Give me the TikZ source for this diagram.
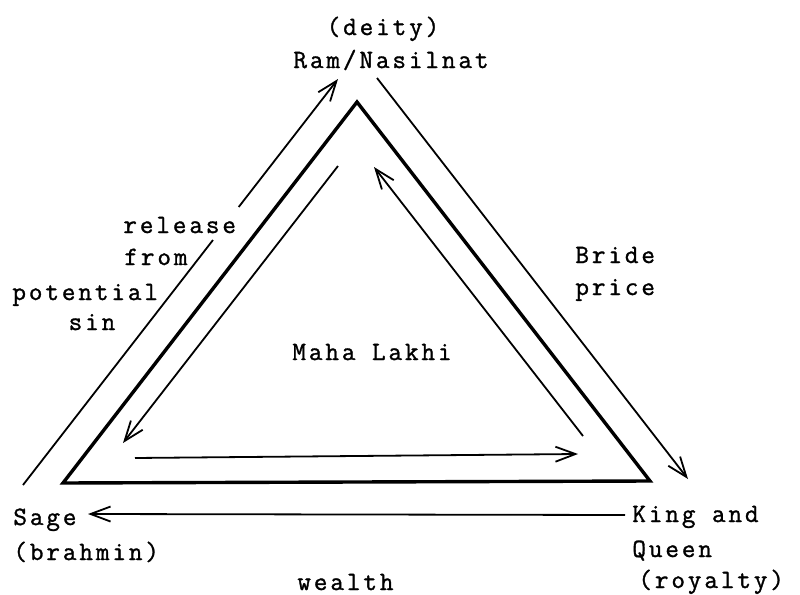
\documentclass[tikz,border=0pt]{standalone}
\usepackage{fontspec}
\newfontfamily\twfont{lmmono12-regular.otf}[LetterSpace=11,FakeBold=1.2]
\usetikzlibrary{arrows.meta}
\begin{document}
\begin{tikzpicture}[x=0.5pt,y=-0.5pt,
  lbl/.style={inner sep=0pt,font=\twfont\fontsize{13.2}{16}\selectfont},
  thin/.style={line width=0.9pt},
  thickline/.style={line width=1.7pt,line join=miter},
  arr/.style={thin,-{Straight Barb[length=10pt,width=7.5pt,line width=0.9pt]}}]
\useasboundingbox (0,0) rectangle (800,595);
% labels
\node[lbl,anchor=base] (deity) at (383,35) {(deity)};
\node[lbl,anchor=base] (ram) at (391,68) {Ram/Nasilnat};
\node[lbl,anchor=base west] (rel) at (123,233) {release};
\node[lbl,anchor=base west] (from) at (124,265) {from};
\node[lbl,anchor=base west] (pot) at (12,300) {potential};
\node[lbl,anchor=base] (sin) at (92,330) {sin};
\node[lbl,anchor=base west] (bride) at (575,263) {Bride};
\node[lbl,anchor=base west] (price) at (575,295) {price};
\node[lbl,anchor=base west] (maha) at (292,360) {Maha Lakhi};
\node[lbl,anchor=base west] (sage) at (13,525) {Sage};
\node[lbl,anchor=base west] (brah) at (13,560) {(brahmin)};
\node[lbl,anchor=base west] (wealth) at (297,590) {wealth};
\node[lbl,anchor=base west] (king) at (632,522) {King and};
\node[lbl,anchor=base west] (queen) at (632,557) {Queen};
\node[lbl,anchor=base west] (roy) at (638,588) {(royalty)};
% coordinates
\coordinate (tl) at (63,483);
\coordinate (tt) at (357,102);
\coordinate (tr) at (650,481);
\coordinate (ol1) at (23,485);
\coordinate (olg1) at (213,240);
\coordinate (olg2) at (238.7,207);
\coordinate (ol2) at (338,79);
\coordinate (or1) at (377,78);
\coordinate (or2) at (688,479);
\coordinate (il1) at (338,166);
\coordinate (il2) at (123,443);
\coordinate (ir1) at (583,436);
\coordinate (ir2) at (374,167);
\coordinate (ib1) at (135,458);
\coordinate (ib2) at (578,454);
\coordinate (w1) at (625,515);
\coordinate (w2) at (88,514);
% triangle
\draw[thickline] (tl) -- (tt) -- (tr) -- cycle;
% outer arrows
\draw[thin] (ol1) -- (olg1);
\draw[arr] (olg2) -- (ol2);
\draw[arr] (or1) -- (or2);
% inner arrows
\draw[arr] (il1) -- (il2);
\draw[arr] (ir1) -- (ir2);
\draw[arr] (ib1) -- (ib2);
% wealth
\draw[arr] (w1) -- (w2);
\end{tikzpicture}
\end{document}
